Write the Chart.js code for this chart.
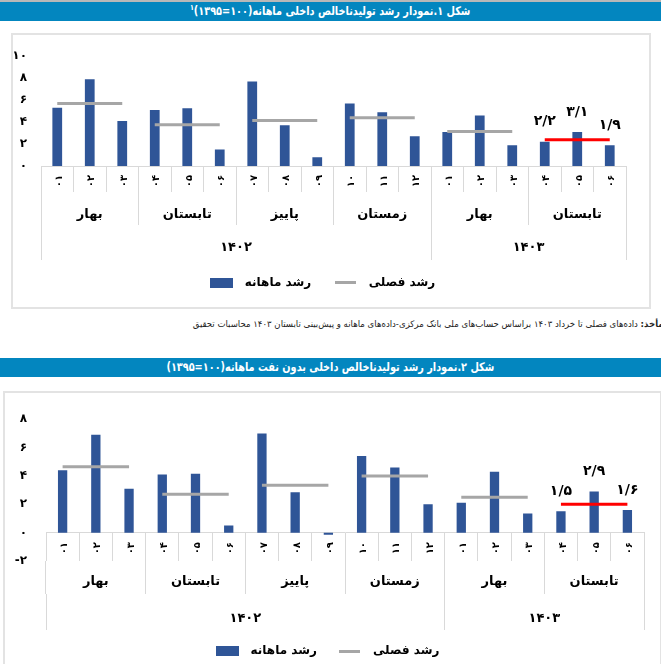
<!DOCTYPE html>
<html lang="fa">
<head>
<meta charset="utf-8">
<script src="https://cdn.jsdelivr.net/npm/chart.js@4.4.0/dist/chart.umd.min.js"></script>
<style>
  html, body { margin: 0; padding: 0; background: #fff; width: 661px; height: 664px; overflow: hidden; position: relative; font-family: 'DejaVu Sans', sans-serif; }
  .topline { position: absolute; left: 0; top: 0; width: 661px; height: 2px; background: #b8b8b8; }
  .band { position: absolute; left: 0; width: 661px; height: 19px; background: #0386bf; color: #fff; font-weight: bold; font-size: 12px; line-height: 19px; text-align: center; direction: rtl; white-space: nowrap; }
  .band span { display: inline-block; transform: scaleX(0.81); }
  .band sup { font-size: 8px; line-height: 0; }
  .box { position: absolute; border: 2px solid #e3e3e3; box-sizing: border-box; }
  canvas { position: absolute; }
  .note { position: absolute; right: -3px; top: 319px; font-size: 9px; direction: rtl; white-space: nowrap; color: #222; transform: scaleX(0.95); transform-origin: right center; }
</style>
</head>
<body>
<div class="topline"></div>
<div class="band" style="top:2px"><span>شکل ۱.نمودار رشد تولیدناخالص داخلی ماهانه(۱۰۰=۱۳۹۵)<sup>۱</sup></span></div>
<div class="box" style="left:11px;top:33px;width:640px;height:276px"></div>
<canvas id="chart1" width="635" height="272" style="left:13px;top:35px"></canvas>
<div class="note"><b>مأخذ:</b> داده‌های فصلی تا خرداد ۱۴۰۳ براساس حساب‌های ملی بانک مرکزی-داده‌های ماهانه و پیش‌بینی تابستان ۱۴۰۳ محاسبات تحقیق</div>

<div class="band" style="top:358px"><span>شکل ۲.نمودار رشد تولیدناخالص داخلی بدون نفت ماهانه(۱۰۰=۱۳۹۵)</span></div>
<div class="box" style="left:3px;top:391px;width:659px;height:300px"></div>
<canvas id="chart2" width="655" height="285" style="left:5px;top:393px"></canvas>

<script>
// ============= DATA =============
const months = ['۰۱','۰۲','۰۳','۰۴','۰۵','۰۶','۰۷','۰۸','۰۹','۱۰','۱۱','۱۲','۰۱','۰۲','۰۳','۰۴','۰۵','۰۶'];
const seasons = ['بهار', 'تابستان', 'پاییز', 'زمستان', 'بهار', 'تابستان'];
const years = ['۱۴۰۲', '۱۴۰۳'];
const yearMonths = [12, 6];

// شکل ۱ — رشد تولید ناخالص داخلی
const gdpMonthly = [5.3, 7.9, 4.1, 5.1, 5.25, 1.5, 7.7, 3.7, 0.8, 5.7, 4.9, 2.7, 3.1, 4.6, 1.9, 2.2, 3.1, 1.9];
const gdpSeasonal = [5.7, 3.75, 4.15, 4.4, 3.15, 2.4];

// شکل ۲ — رشد تولید ناخالص داخلی بدون نفت
const nonOilMonthly = [4.4, 6.9, 3.1, 4.1, 4.15, 0.5, 7.0, 2.85, -0.15, 5.4, 4.6, 2.0, 2.1, 4.3, 1.35, 1.5, 2.9, 1.6];
const nonOilSeasonal = [4.65, 2.7, 3.35, 4.0, 2.5, 2.0];

const monthlyLabel = 'رشد ماهانه';
const seasonalLabel = 'رشد فصلی';

// ============= STYLE =============
const BLUE = '#2F5597';
const GRAY = '#A6A6A6';
const RED = '#FF0000';
const GRID = '#D9D9D9';
const FONT = "'DejaVu Sans'";

const faDigits = '۰۱۲۳۴۵۶۷۸۹';
const toFa = v => String(v).replace('.', '/').replace(/\d/g, d => faDigits[d]);

function swatch(w, h, color) {
  const c = document.createElement('canvas');
  c.width = w; c.height = h;
  const g = c.getContext('2d');
  g.fillStyle = color;
  g.fillRect(0, 0, w, h);
  return c;
}
const barSwatch = swatch(23, 10, BLUE);
const lineSwatch = swatch(21, 3, GRAY);

// سال‌ها روی محور دسته‌ای با یک خانه برای هر مرز ماه (۰ تا ۱۸)
const yearBounds = [0];
yearMonths.forEach(n => yearBounds.push(yearBounds[yearBounds.length - 1] + n));
const yearSlots = Array(months.length + 1).fill('');
yearMonths.forEach((n, i) => { yearSlots[yearBounds[i] + n / 2] = years[i]; });

// برچسب سه ماه آخر
const lastLabels = {
  id: 'lastLabels',
  afterDatasetsDraw(chart, args, opts) {
    const meta = chart.getDatasetMeta(0);
    const data = chart.data.datasets[0].data;
    const { ctx } = chart;
    ctx.save();
    ctx.font = `bold 14px ${FONT}`;
    ctx.fillStyle = '#000';
    ctx.textAlign = 'center';
    ctx.textBaseline = 'middle';
    for (let i = opts.from; i < data.length; i++) {
      const el = meta.data[i];
      ctx.fillText(toFa(data[i]), el.x, el.y - opts.gap);
    }
    ctx.restore();
  }
};

// ============= CHART BUILDER =============
function buildChart(id, monthly, seasonal, g) {
  const seasonLine = seasonal.flatMap(v => [v, v, v]);

  return new Chart(document.getElementById(id), {
    type: 'bar',
    data: {
      labels: months,
      datasets: [
        { label: monthlyLabel, data: monthly, backgroundColor: BLUE, borderWidth: 0,
          barPercentage: g.bar, categoryPercentage: 1, order: 1 },
        { type: 'line', label: seasonalLabel, data: seasonLine, borderColor: GRAY, borderWidth: 3,
          pointRadius: 0, order: 0,
          segment: {
            borderColor: ctx => ctx.p0DataIndex % 3 === 2 ? 'rgba(0,0,0,0)' : (ctx.p0DataIndex >= 15 ? RED : GRAY)
          } }
      ]
    },
    plugins: [lastLabels],
    options: {
      responsive: false,
      animation: false,
      layout: { padding: { top: g.top, right: g.right, bottom: g.bottom, left: 0 } },
      plugins: {
        tooltip: { enabled: false },
        lastLabels: { from: 15, gap: g.gap },
        legend: {
          position: 'bottom',
          labels: {
            color: '#000',
            font: { family: FONT, size: 12, weight: 'bold' },
            usePointStyle: true,
            pointStyleWidth: 35,
            padding: g.legendPad,
            generateLabels: chart => Chart.defaults.plugins.legend.labels.generateLabels(chart)
              .map(it => ({ ...it, pointStyle: it.datasetIndex === 0 ? barSwatch : lineSwatch }))
              .sort((a, b) => a.datasetIndex - b.datasetIndex)
          }
        }
      },
      scales: {
        x: {
          type: 'category', position: g.xPos, weight: 1, offset: true,
          grid: { offset: true, drawOnChartArea: false, tickLength: g.rows[0], color: GRID },
          border: { display: true, color: GRID },
          ticks: { autoSkip: false, minRotation: 90, maxRotation: 90, padding: g.pad[0], labelOffset: 2,
            color: '#000', font: { family: FONT, size: 10, weight: 'bold' } },
          afterFit: s => { s.height = g.rows[0]; }
        },
        x2: {
          type: 'category', labels: seasons, position: 'bottom', weight: 2, offset: true,
          grid: { offset: true, drawOnChartArea: false, tickLength: g.rows[1], color: GRID },
          border: { display: false },
          ticks: { autoSkip: false, maxRotation: 0, padding: g.pad[1],
            color: '#000', font: { family: FONT, size: 13, weight: 'bold' } },
          afterFit: s => { s.height = g.rows[1]; }
        },
        x3: {
          type: 'category', labels: yearSlots, position: 'bottom', weight: 3, offset: false,
          grid: { offset: false, drawOnChartArea: false, tickLength: g.rows[2],
            color: ctx => yearBounds.includes(ctx.index) ? GRID : 'rgba(0,0,0,0)' },
          border: { display: false },
          ticks: { autoSkip: false, maxRotation: 0, padding: g.pad[2],
            color: '#000', font: { family: FONT, size: 13, weight: 'bold' } },
          afterFit: s => { s.height = g.rows[2]; }
        },
        y: {
          min: g.min, max: g.max,
          grid: { display: false, drawTicks: false },
          border: { display: false },
          ticks: { stepSize: 2, padding: g.yPad, color: '#000',
            font: { family: FONT, size: 12, weight: 'bold' }, callback: v => toFa(v) },
          afterFit: s => { s.width = g.yWidth; }
        }
      }
    }
  });
}

buildChart('chart1', gdpMonthly, gdpSeasonal, {
  min: 0, max: 10, xPos: 'bottom', bar: 0.3, gap: 20,
  top: 15, right: 22, bottom: 8.5, yWidth: 28, yPad: 14,
  rows: [26, 33, 35], pad: [-17, -18, -20], legendPad: 16.5
});

buildChart('chart2', nonOilMonthly, nonOilSeasonal, {
  min: -2, max: 8, xPos: { y: 0 }, bar: 0.28, gap: 20,
  top: 15.7, right: 16, bottom: 11, yWidth: 41, yPad: 19,
  rows: [28, 33, 36], pad: [-18.5, -20.4, -19.4], legendPad: 15
});
</script>
</body>
</html>
